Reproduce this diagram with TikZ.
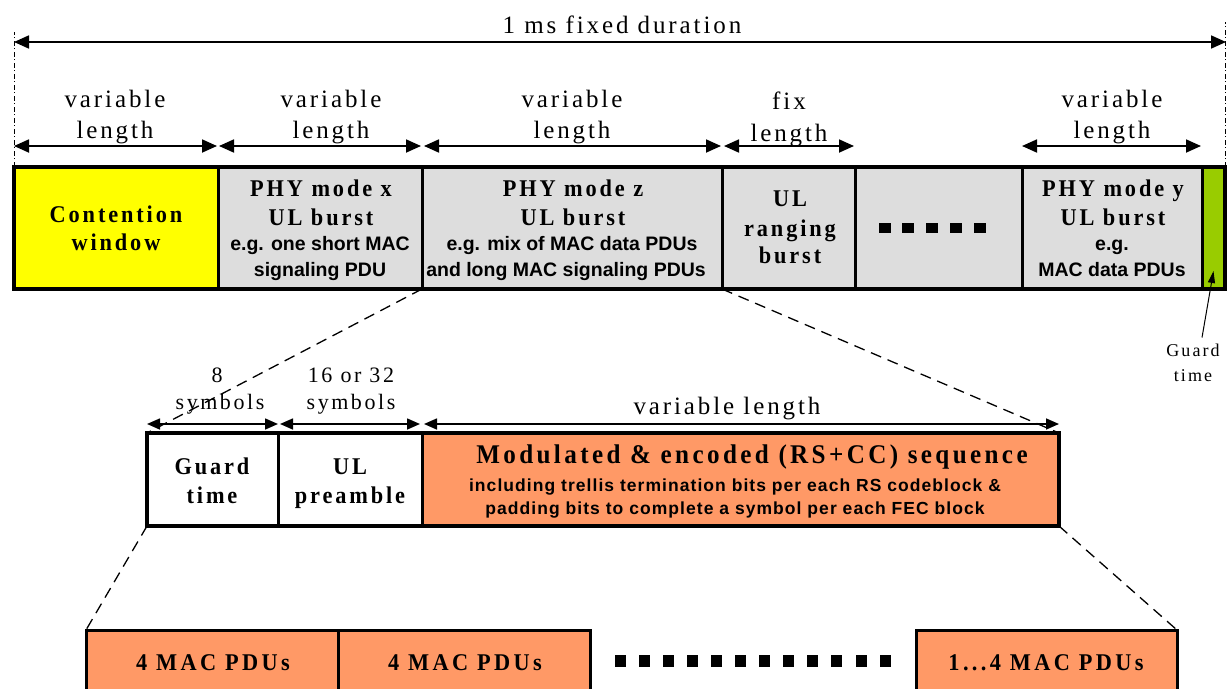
\documentclass[tikz,border=0pt]{standalone}
\usepackage{fontspec}
\setmainfont{Liberation Serif}
\newfontfamily\lblfam[LetterSpace=11.6]{Liberation Serif}
\newfontfamily\ttlfam[LetterSpace=12,FakeStretch=0.93]{Liberation Serif}
\newfontfamily\bigfam[LetterSpace=12.5,FakeStretch=0.93]{Liberation Serif}
\newfontfamily\pdufam[LetterSpace=14,FakeStretch=0.93]{Liberation Serif}
\newfontfamily\snsfam{Liberation Sans}
\newfontfamily\snswfam[LetterSpace=6]{Liberation Sans}
\usetikzlibrary{arrows.meta}
\definecolor{cyel}{HTML}{FFFF00}
\definecolor{cgray}{HTML}{DDDDDD}
\definecolor{cgreen}{HTML}{99CC00}
\definecolor{corange}{HTML}{FF9966}
\newcommand{\FLab}{\lblfam\fontsize{25}{30}\selectfont}
\newcommand{\FSym}{\lblfam\fontsize{22}{26}\selectfont}
\newcommand{\FGt}{\lblfam\fontsize{18}{22}\selectfont}
\newcommand{\FTtl}{\ttlfam\bfseries\fontsize{24}{28}\selectfont}
\newcommand{\FBig}{\bigfam\bfseries\fontsize{27}{30}\selectfont}
\newcommand{\FPdu}{\pdufam\bfseries\fontsize{24}{28}\selectfont}
\newcommand{\FSub}{\snsfam\bfseries\fontsize{19.5}{24}\selectfont}
\newcommand{\FSubS}{\snswfam\bfseries\fontsize{17.5}{20}\selectfont}
\begin{document}
\begin{tikzpicture}[x=1pt,y=-1pt,
  seg/.style={draw, line width=3pt, inner sep=0pt, outer sep=0pt, anchor=north west, minimum height=122.5pt},
  low/.style={draw, line width=3pt, inner sep=0pt, outer sep=0pt, anchor=north west, minimum height=93pt},
  pdu/.style={draw, line width=3pt, fill=corange, inner sep=0pt, outer sep=0pt, anchor=north west, minimum height=80pt},
  txt/.style={inner sep=0pt, outer sep=0pt, anchor=base},
  dim/.style={line width=1.8pt, {Triangle[length=15pt,width=13pt]}-{Triangle[length=15pt,width=13pt]}},
  dimS/.style={line width=1.6pt, {Triangle[length=13pt,width=11pt]}-{Triangle[length=13pt,width=11pt]}},
  zoomline/.style={line width=1.3pt, dash pattern=on 11pt off 7pt},
  frameline/.style={line width=0.8pt, dash pattern=on 5pt off 2.5pt on 1pt off 2.5pt}
]
\useasboundingbox (0,0) rectangle (1231,688);
\clip (0,0) rectangle (1231,688);
\fill[white] (0,0) rectangle (1231,688);

% main bar
\node[seg, fill=cyel,   minimum width=204pt] (c1) at (14,166.5) {};
\node[seg, fill=cgray,  minimum width=204pt] (c2) at (218,166.5) {};
\node[seg, fill=cgray,  minimum width=300pt] (c3) at (422,166.5) {};
\node[seg, fill=cgray,  minimum width=133pt] (c4) at (722,166.5) {};
\node[seg, fill=cgray,  minimum width=167pt] (c5) at (855,166.5) {};
\node[seg, fill=cgray,  minimum width=180pt] (c6) at (1022,166.5) {};
\node[seg, fill=cgreen, minimum width=23pt]  (c7) at (1202,166.5) {};
\draw[line width=4pt] (c1.north west) rectangle (c7.south east);

% texts in main bar
\node[txt] (t1a) at (116,222.7) {\FTtl Contention};
\node[txt] (t1b) at (116,250.7) {\FTtl window};
\node[txt] (t2a) at (321,196) {\FTtl PHY mode x};
\node[txt] (t2b) at (321,225) {\FTtl UL burst};
\node[txt] (t2c) at (320,250.7) {\FSub e.g. one short MAC};
\node[txt] (t2d) at (320,276) {\FSub signaling PDU};
\node[txt] (t3a) at (573,196) {\FTtl PHY mode z};
\node[txt] (t3b) at (573,225) {\FTtl UL burst};
\node[txt] (t3c) at (572,250.7) {\FSub e.g. mix of MAC data PDUs};
\node[txt] (t3d) at (566,276) {\FSub and long MAC signaling PDUs};
\node[txt] (t4a) at (790,206.7) {\FTtl UL};
\node[txt] (t4b) at (790,236.7) {\FTtl ranging};
\node[txt] (t4c) at (790,263.3) {\FTtl burst};
\node[txt] (t6a) at (1113,196) {\FTtl PHY mode y};
\node[txt] (t6b) at (1113,225) {\FTtl UL burst};
\node[txt] (t6c) at (1112,250.7) {\FSub e.g.};
\node[txt] (t6d) at (1112,276) {\FSub MAC data PDUs};
\foreach \xx in {884.7,908.4,932.1,955.8,979.5}
  \fill ({\xx-6},223) rectangle ++(12,10);

% top labels and arrows
\node[txt] (top) at (622,33) {\FLab 1 ms fixed duration};
\draw[frameline] (c1.north west) -- ++(0,-134.5);
\draw[frameline] (c7.north east) -- ++(0,-144.5);
\draw[dim] ([yshift=124.5pt]c1.north west) -- ([yshift=124.5pt,xshift=1pt]c7.north east);

\node[txt] (l1a) at (115,107) {\FLab variable};
\node[txt] (l1b) at (115,138) {\FLab length};
\node[txt] (l2a) at (331,107) {\FLab variable};
\node[txt] (l2b) at (331,138) {\FLab length};
\node[txt] (l3a) at (572,107) {\FLab variable};
\node[txt] (l3b) at (572,138) {\FLab length};
\node[txt] (l4a) at (789,109) {\FLab fix};
\node[txt] (l4b) at (789,141) {\FLab length};
\node[txt] (l6a) at (1112,107) {\FLab variable};
\node[txt] (l6b) at (1112,138) {\FLab length};
\draw[dim] ([yshift=20.5pt]c1.north west) -- ([yshift=20.5pt,xshift=-1pt]c1.north east);
\draw[dim] ([yshift=20.5pt,xshift=1pt]c2.north west) -- ([yshift=20.5pt,xshift=-1pt]c2.north east);
\draw[dim] ([yshift=20.5pt,xshift=2pt]c3.north west) -- ([yshift=20.5pt,xshift=-1pt]c3.north east);
\draw[dim] ([yshift=20.5pt,xshift=2pt]c4.north west) -- ([yshift=20.5pt,xshift=-1pt]c4.north east);
\draw[dim] ([yshift=20.5pt]c6.north west) -- ([yshift=20.5pt,xshift=-1pt]c6.north east);

% guard time annotation
\node[txt] (gt1) at (1193,356) {\FGt Guard};
\node[txt] (gt2) at (1193,381) {\FGt time};
\draw[line width=1pt, -{Triangle[length=12pt,width=7pt]}] ([xshift=9pt,yshift=6pt]gt1.north) -- ([yshift=18pt]c7.south);

% lower burst
\node[low, fill=white,   minimum width=131pt] (g) at (147,433) {};
\node[low, fill=white,   minimum width=144pt] (p) at (278,433) {};
\node[low, fill=corange, minimum width=637pt] (m) at (422,433) {};
\draw[line width=4pt] (g.north west) rectangle (m.south east);

\draw[zoomline] (c3.south west) -- (g.north west);
\draw[zoomline] (c3.south east) -- (m.north east);

\node[txt] (s1a) at (217,382) {\FSym 8};
\node[txt] (s1b) at (220,409) {\FSym symbols};
\node[txt] (s2a) at (351,382) {\FSym 16 or 32};
\node[txt] (s2b) at (351,409) {\FSym symbols};
\node[txt] (s3) at (727,414) {\FLab variable length};
\draw[dimS] ([yshift=9pt]g.north west) -- ([yshift=9pt]g.north east);
\draw[dimS] ([yshift=9pt,xshift=2pt]p.north west) -- ([yshift=9pt,xshift=-2pt]p.north east);
\draw[dimS] ([yshift=9pt,xshift=2pt]m.north west) -- ([yshift=9pt]m.north east);

\node[txt] (ga) at (212,474.3) {\FTtl Guard};
\node[txt] (gb) at (212,503.3) {\FTtl time};
\node[txt] (pa) at (350,474.3) {\FTtl UL};
\node[txt] (pb) at (350,503.3) {\FTtl preamble};
\node[txt] (ma) at (752,463.3) {\FBig Modulated \& encoded (RS+CC) sequence};
\node[txt] (mb) at (735,491) {\FSubS including trellis termination bits per each RS codeblock \&};
\node[txt] (mc) at (735,514) {\FSubS padding bits to complete a symbol per each FEC block};

% MAC PDUs row
\node[pdu, minimum width=252pt] (b1) at (86,630) {};
\node[pdu, minimum width=252pt] (b2) at (338,630) {};
\node[pdu, minimum width=261pt] (b3) at (916,630) {};
\draw[zoomline] (g.south west) -- (b1.north west);
\draw[zoomline] (m.south east) -- (b3.north east);
\node[txt] (q1) at (213,670.7) {\FPdu 4 MAC PDUs};
\node[txt] (q2) at (465,670.7) {\FPdu 4 MAC PDUs};
\node[txt] (q3) at (1046,670.7) {\FPdu 1...4 MAC PDUs};
\foreach \i in {0,...,11}
  \fill ({614.5+24.1*\i},655) rectangle ++(11,12);
\end{tikzpicture}
\end{document}
